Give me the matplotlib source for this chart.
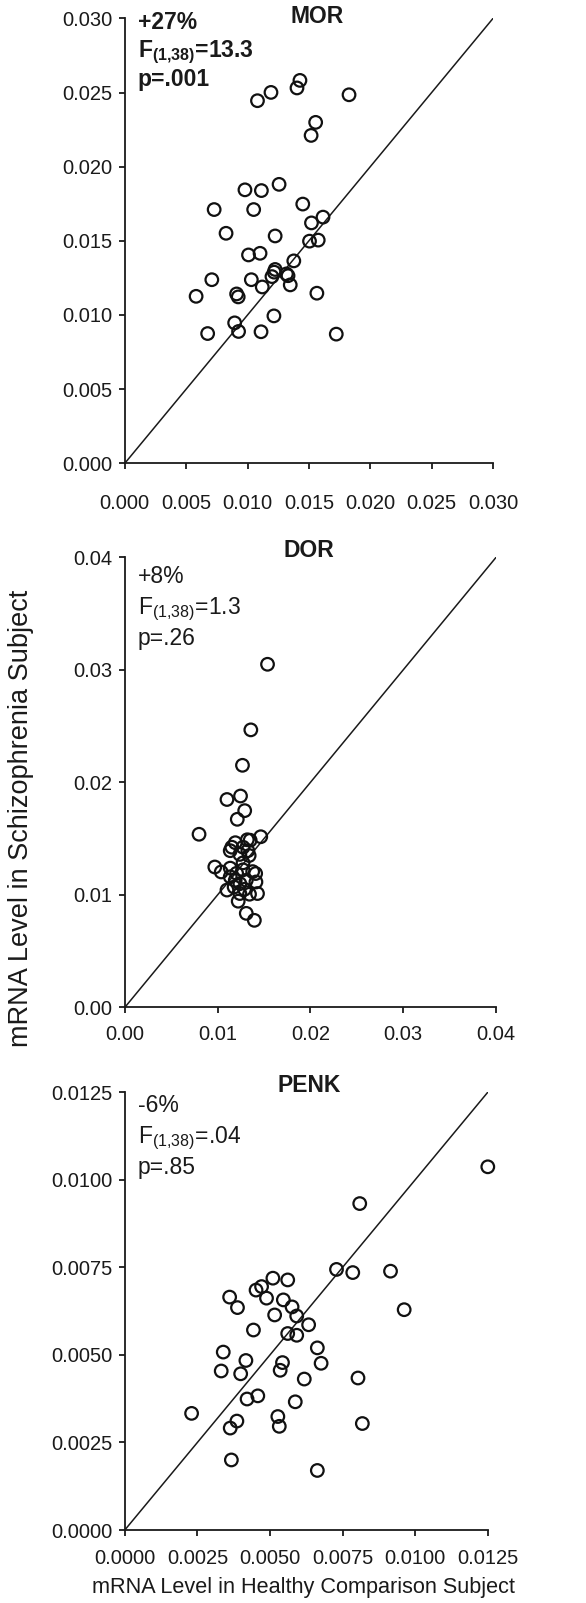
import matplotlib
matplotlib.use('Agg')
import matplotlib.pyplot as plt

plt.rcParams['font.family'] = ['Liberation Sans', 'DejaVu Sans']
plt.rcParams['mathtext.default'] = 'regular'

#----- DATA -----

mor_x = [0.01827, 0.01427, 0.01403, 0.01191, 0.01081, 0.01555, 0.01518, 0.01257,
         0.00979, 0.01113, 0.00728, 0.01050, 0.01450, 0.01615, 0.01521, 0.00825,
         0.01225, 0.01505, 0.01576, 0.01008, 0.01102, 0.01377, 0.01225, 0.01217,
         0.01317, 0.01199, 0.00709, 0.01031, 0.01120, 0.01348, 0.01330, 0.00581,
         0.00911, 0.00924, 0.01565, 0.01215, 0.00895, 0.00927, 0.00675, 0.01110,
         0.01723]
mor_y = [0.02485, 0.02582, 0.02531, 0.02501, 0.02445, 0.02299, 0.02211, 0.01881,
         0.01844, 0.01839, 0.01711, 0.01711, 0.01748, 0.01660, 0.01621, 0.01551,
         0.01533, 0.01498, 0.01505, 0.01405, 0.01416, 0.01365, 0.01307, 0.01289,
         0.01277, 0.01259, 0.01238, 0.01238, 0.01189, 0.01203, 0.01265, 0.01126,
         0.01142, 0.01122, 0.01147, 0.00994, 0.00947, 0.00889, 0.00875, 0.00887,
         0.00871]

dor_x = [0.01538, 0.01358, 0.01268, 0.01247, 0.01101, 0.01292, 0.01212, 0.00800,
         0.01465, 0.01351, 0.01191, 0.01136, 0.01274, 0.01326, 0.01240, 0.01340,
         0.00970, 0.01039, 0.01136, 0.01205, 0.01274, 0.01378, 0.01136, 0.01413,
         0.01309, 0.01240, 0.01101, 0.01178, 0.01430, 0.01344, 0.01240, 0.01222,
         0.01309, 0.01396, 0.01274, 0.01190, 0.01290, 0.01410, 0.01153, 0.01320]
dor_y = [0.03050, 0.02467, 0.02152, 0.01879, 0.01848, 0.01749, 0.01672, 0.01539,
         0.01517, 0.01486, 0.01464, 0.01393, 0.01424, 0.01393, 0.01360, 0.01350,
         0.01248, 0.01204, 0.01238, 0.01192, 0.01223, 0.01207, 0.01161, 0.01115,
         0.01130, 0.01100, 0.01043, 0.01070, 0.01012, 0.01006, 0.01012, 0.00944,
         0.00836, 0.00774, 0.01285, 0.01130, 0.01050, 0.01190, 0.01424, 0.01490]

penk_x = [0.01250, 0.00809, 0.00729, 0.00785, 0.00915, 0.00962, 0.00510, 0.00561,
          0.00471, 0.00452, 0.00488, 0.00546, 0.00361, 0.00388, 0.00576, 0.00592,
          0.00516, 0.00633, 0.00443, 0.00561, 0.00592, 0.00339, 0.00663, 0.00417,
          0.00543, 0.00676, 0.00332, 0.00399, 0.00535, 0.00618, 0.00803, 0.00421,
          0.00458, 0.00587, 0.00230, 0.00386, 0.00363, 0.00527, 0.00532, 0.00818,
          0.00367, 0.00663]
penk_y = [0.01037, 0.00932, 0.00744, 0.00735, 0.00739, 0.00629, 0.00719, 0.00714,
          0.00695, 0.00685, 0.00662, 0.00657, 0.00665, 0.00635, 0.00637, 0.00611,
          0.00614, 0.00586, 0.00571, 0.00561, 0.00556, 0.00508, 0.00520, 0.00484,
          0.00478, 0.00476, 0.00454, 0.00446, 0.00456, 0.00431, 0.00434, 0.00374,
          0.00383, 0.00366, 0.00333, 0.00311, 0.00291, 0.00324, 0.00296, 0.00304,
          0.00200, 0.00170]

mor_ticks = [0.0, 0.005, 0.010, 0.015, 0.020, 0.025, 0.030]
mor_labels = ['0.000', '0.005', '0.010', '0.015', '0.020', '0.025', '0.030']
dor_ticks = [0.0, 0.01, 0.02, 0.03, 0.04]
dor_labels = ['0.00', '0.01', '0.02', '0.03', '0.04']
penk_ticks = [0.0, 0.0025, 0.0050, 0.0075, 0.0100, 0.0125]
penk_labels = ['0.0000', '0.0025', '0.0050', '0.0075', '0.0100', '0.0125']

mor_stats = ['+27%', 'F$_{(1{,}38)}$=13.3', 'p=.001']
dor_stats = ['+8%', 'F$_{(1{,}38)}$=1.3', 'p=.26']
penk_stats = ['-6%', 'F$_{(1{,}38)}$=.04', 'p=.85']

#----- FIGURE -----

W, H = 586, 1603
fig = plt.figure(figsize=(W/100, H/100), dpi=100)

def panel(rect, xs, ys, ticks, labels, title, title_px, title_drop, stats, weight,
          first_base, step, xpad):
    left, top, right, bottom = rect
    ax = fig.add_axes([left/W, 1-bottom/H, (right-left)/W, (bottom-top)/H])
    lim = ticks[-1]
    ax.plot([0, lim], [0, lim], color='#1a1a1a', lw=1.1, zorder=1)
    ax.scatter(xs, ys, s=82, facecolors='none', edgecolors='#111111',
               linewidths=1.6, zorder=2, clip_on=False)
    ax.set_xlim(0, lim)
    ax.set_ylim(0, lim)
    ax.set_xticks(ticks)
    ax.set_xticklabels(labels)
    ax.set_yticks(ticks)
    ax.set_yticklabels(labels)
    for s in ['top', 'right']:
        ax.spines[s].set_visible(False)
    for s in ['left', 'bottom']:
        ax.spines[s].set_linewidth(1.3)
        ax.spines[s].set_color('#1a1a1a')
    ax.tick_params(axis='x', direction='out', length=4.5, width=1.3,
                   labelsize=14.5, pad=xpad, colors='#1a1a1a')
    ax.tick_params(axis='y', direction='out', length=4, width=1.3,
                   labelsize=14.5, pad=5, colors='#1a1a1a')
    ax.annotate(title, xy=((title_px-left)/(right-left), 1), xycoords='axes fraction',
                xytext=(0, -title_drop), textcoords='offset pixels',
                ha='center', va='baseline', fontsize=16.5, fontweight='bold',
                color='#1a1a1a')
    for i, s in enumerate(stats):
        ax.annotate(s, xy=(0, 1), xycoords='axes fraction',
                    xytext=(13, -(first_base + step*i)), textcoords='offset pixels',
                    ha='left', va='baseline', fontsize=16.5, fontweight=weight,
                    color='#1a1a1a')
    return ax

panel((124.8, 18.4, 493, 463.3), mor_x, mor_y, mor_ticks, mor_labels, 'MOR', 317, 5,
      mor_stats, 'bold', 10.6, 28.5, 17.6)
panel((124.8, 557.4, 496, 1007.4), dor_x, dor_y, dor_ticks, dor_labels, 'DOR', 309, 0,
      dor_stats, 'normal', 25.8, 31, 8.2)
panel((124.8, 1092.2, 487.8, 1530), penk_x, penk_y, penk_ticks, penk_labels, 'PENK', 309, 0,
      penk_stats, 'normal', 19.8, 31, 8.9)

fig.text(303/W, 1-1587/H, 'mRNA Level in Healthy Comparison Subject',
         ha='center', va='center', fontsize=15.6, color='#1a1a1a')
fig.text(21/W, 1-818/H, 'mRNA Level in Schizophrenia Subject',
         ha='center', va='center', rotation=90, fontsize=19.5, color='#1a1a1a')

fig.savefig('out.png', dpi=100)
